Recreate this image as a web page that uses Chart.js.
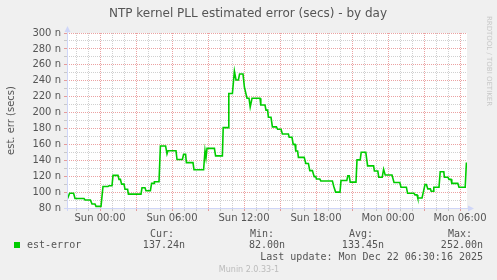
<!DOCTYPE html>
<html>
<head>
<meta charset="utf-8">
<script src="https://cdn.jsdelivr.net/npm/chart.js@4/dist/chart.umd.min.js"></script>
<style>
  html, body { margin: 0; padding: 0; background: #F0F0F0; }
  canvas { display: block; }
</style>
</head>
<body>
<canvas id="chart" width="497" height="280"></canvas>
<script>
// minutes relative to Sun 00:00
const sampleMinutes = [-162, -152, -132, -125, -80, -75, -48, -40, -25, -20, 5, 15, 40, 45, 60, 65, 90, 95, 102, 108,
  120, 125, 138, 142, 205, 210, 225, 230, 252, 258, 270, 272, 295, 302, 328, 335, 340, 380, 385, 412,
  418, 428, 432, 465, 470, 518, 525, 530, 535, 572, 578, 612, 616, 641, 644, 662, 672, 680, 692, 698,
  715, 722, 735, 745, 751, 760, 800, 804, 825, 830, 838, 842, 855, 862, 882, 888, 905, 912, 942, 946,
  960, 966, 975, 979, 988, 992, 1021, 1029, 1042, 1049, 1062, 1071, 1079, 1082, 1099, 1104, 1162, 1169, 1178, 1200,
  1205, 1234, 1239, 1246, 1251, 1280, 1285, 1301, 1306, 1329, 1338, 1368, 1372, 1389, 1394, 1411, 1418, 1426, 1460, 1470,
  1499, 1505, 1532, 1538, 1570, 1575, 1585, 1589, 1610, 1625, 1632, 1639, 1652, 1656, 1665, 1669, 1695, 1701, 1719, 1722,
  1740, 1745, 1755, 1759, 1789, 1795, 1826, 1832];
// est-error in nanoseconds
const estErrorNs = [92, 98.5, 98.5, 92, 92, 90, 90, 85, 85, 82, 82, 107, 107, 108, 108, 121, 121, 116, 116, 110,
  110, 103.5, 103.5, 97.5, 97.5, 105.5, 105.5, 101.7, 101.7, 111, 111, 113, 113, 158, 158, 148, 152, 152, 141, 141,
  147.5, 147.5, 137, 137, 128, 128, 152, 143, 155, 155, 145.5, 145.5, 181, 181, 224, 224, 252, 241, 241, 248.5,
  248.5, 232, 218, 218, 207, 218, 218, 209.5, 209.5, 203, 203, 194, 194, 182, 182, 179, 179, 173, 173, 169,
  169, 160, 160, 151.6, 151.6, 143.7, 143.7, 136, 136, 127, 127, 119.4, 119.4, 116.5, 116.5, 114, 114, 107, 100, 100,
  114.5, 114.5, 120.5, 120.5, 112.5, 112.5, 140.5, 140.5, 150, 150, 133, 133, 126.5, 126.5, 118.6, 118.6, 128.6, 121.5, 121.5, 112,
  112, 106, 106, 98.5, 98.5, 96.5, 96.5, 92.5, 92.5, 109.5, 109.5, 104, 104, 101, 101, 106, 106, 125.5, 125.5, 118.6,
  118.6, 116, 116, 111, 111, 106, 106, 137.24];

const xTickMinutes = [0, 360, 720, 1080, 1440, 1800];
const xTickLabels = ["Sun 00:00", "Sun 06:00", "Sun 12:00", "Sun 18:00", "Mon 00:00", "Mon 06:00"];
const yTickValues = [80, 100, 120, 140, 160, 180, 200, 220, 240, 260, 280, 300];
const yTickLabels = ["80 n", "100 n", "120 n", "140 n", "160 n", "180 n", "200 n", "220 n", "240 n", "260 n", "280 n", "300 n"];

const legendHeads = ["Cur:", "Min:", "Avg:", "Max:"];
const legendValues = ["137.24n", "82.00n", "133.45n", "252.00n"];

const FONT = "DejaVu Sans";
const MONO = "DejaVu Sans Mono";
const TXT = "#555555";
const MAJOR = "rgba(215, 70, 70, 0.5)";
const MINOR = "rgba(150, 150, 150, 0.45)";
const AXIS = "#CFD6F8";

const points = sampleMinutes.map((m, i) => ({ x: m, y: estErrorNs[i] }));

const munin = {
  id: "munin",
  beforeDraw(chart) {
    const ctx = chart.ctx;
    const { left, top, right, bottom } = chart.chartArea;
    ctx.save();
    ctx.fillStyle = "#F0F0F0";
    ctx.fillRect(0, 0, chart.width, chart.height);
    ctx.fillStyle = "#FFFFFF";
    ctx.fillRect(left, top, right - left, bottom - top);
    ctx.restore();
  },
  afterDraw(chart) {
    const ctx = chart.ctx;
    const { left, top, right, bottom } = chart.chartArea;
    ctx.save();
    // axes with arrows
    ctx.strokeStyle = AXIS;
    ctx.fillStyle = AXIS;
    ctx.lineWidth = 1;
    ctx.beginPath();
    ctx.moveTo(left - 3, bottom + 0.5);
    ctx.lineTo(right + 3, bottom + 0.5);
    ctx.moveTo(left + 0.5, bottom + 3);
    ctx.lineTo(left + 0.5, top - 3);
    ctx.stroke();
    ctx.beginPath();
    ctx.moveTo(right + 7, bottom + 0.5);
    ctx.lineTo(right + 1, bottom - 2.5);
    ctx.lineTo(right + 1, bottom + 3.5);
    ctx.fill();
    ctx.beginPath();
    ctx.moveTo(left + 0.5, top - 7);
    ctx.lineTo(left - 2.5, top - 1);
    ctx.lineTo(left + 3.5, top - 1);
    ctx.fill();

    // title
    ctx.fillStyle = TXT;
    ctx.font = "12px '" + FONT + "'";
    ctx.textAlign = "center";
    ctx.textBaseline = "middle";
    ctx.fillText("NTP kernel PLL estimated error (secs) - by day", 248, 14);

    // y axis title
    ctx.save();
    ctx.translate(11, (top + bottom) / 2);
    ctx.rotate(-Math.PI / 2);
    ctx.font = "10px '" + FONT + "'";
    ctx.fillText("est. err (secs)", 0, 0);
    ctx.restore();

    // rrdtool watermark
    ctx.save();
    ctx.translate(489, 61);
    ctx.rotate(Math.PI / 2);
    ctx.fillStyle = "#C8C8C8";
    ctx.font = "7px '" + FONT + "'";
    ctx.fillText("RRDTOOL / TOBI OETIKER", 0, 0);
    ctx.restore();

    // legend
    ctx.font = "10px '" + MONO + "'";
    ctx.fillStyle = TXT;
    const colHead = [150, 250, 349, 448];
    const colVal = [185, 285, 384, 483];
    legendHeads.forEach((h, i) => {
      ctx.textAlign = "left";
      ctx.fillText(h, colHead[i], 234);
      ctx.textAlign = "right";
      ctx.fillText(legendValues[i], colVal[i], 245.5);
    });
    ctx.textAlign = "left";
    ctx.fillText("est-error", 27, 245.5);
    ctx.textAlign = "right";
    ctx.fillText("Last update: Mon Dec 22 06:30:16 2025", 483, 257.5);
    ctx.fillStyle = "#00CC00";
    ctx.fillRect(14, 242, 6, 6);

    ctx.fillStyle = "#BBBBBB";
    ctx.font = "8px '" + FONT + "'";
    ctx.textAlign = "center";
    ctx.fillText("Munin 2.0.33-1", 249, 269.5);
    ctx.restore();
  },
};

const majorX = (v) => v % 180 === 0;

new Chart(document.getElementById("chart"), {
  type: "line",
  data: {
    datasets: [
      {
        label: "est-error",
        data: points,
        borderColor: "#00CC00",
        borderWidth: 1.6,
        pointRadius: 0,
        fill: false,
        tension: 0,
      },
    ],
  },
  options: {
    responsive: false,
    animation: false,
    events: [],
    layout: { padding: { left: 0, top: 33, right: 30, bottom: 52 } },
    plugins: { legend: { display: false }, tooltip: { enabled: false } },
    scales: {
      x: {
        type: "linear",
        min: -165,
        max: 1835,
        afterBuildTicks: (scale) => {
          const ticks = [];
          for (let m = -120; m <= 1800; m += 60) ticks.push({ value: m });
          scale.ticks = ticks;
        },
        afterFit: (scale) => { scale.height = 20; },
        ticks: {
          autoSkip: false,
          maxRotation: 0,
          padding: 1,
          color: TXT,
          font: { family: FONT, size: 10 },
          callback: (v) => {
            const i = xTickMinutes.indexOf(v);
            return i >= 0 ? xTickLabels[i] : "";
          },
        },
        grid: {
          color: (c) => (majorX(c.tick.value) ? MAJOR : MINOR),
          tickColor: (c) => (majorX(c.tick.value) ? MAJOR : MINOR),
          tickLength: 3,
          lineWidth: 1,
        },
        border: { display: false, dash: [1, 1] },
      },
      y: {
        min: 80,
        max: 300,
        afterFit: (scale) => { scale.width = 67; },
        ticks: {
          stepSize: 10,
          autoSkip: false,
          padding: 3,
          color: TXT,
          font: { family: FONT, size: 10 },
          callback: (v) => {
            const i = yTickValues.indexOf(v);
            return i >= 0 ? yTickLabels[i] : "";
          },
        },
        grid: {
          color: (c) => (c.tick.value % 20 === 0 ? MAJOR : MINOR),
          tickColor: (c) => (c.tick.value % 20 === 0 ? MAJOR : MINOR),
          tickLength: 3,
          lineWidth: 1,
        },
        border: { display: false, dash: [1, 1] },
      },
    },
  },
  plugins: [munin],
});
</script>
</body>
</html>
